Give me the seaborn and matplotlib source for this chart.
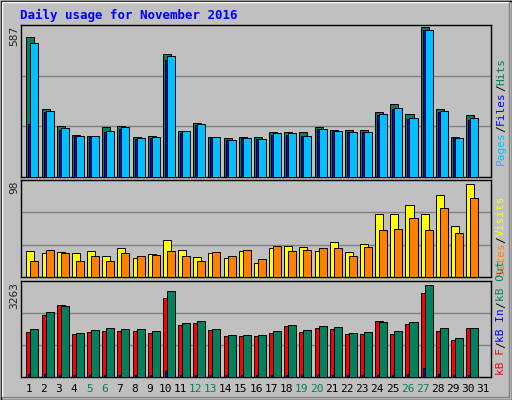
import numpy as np
import matplotlib
matplotlib.use("Agg")
import matplotlib.pyplot as plt
import seaborn as sns

sns.set_style("white")
plt.rcParams['font.family'] = ['DejaVu Sans Mono', 'DejaVu Sans']

days = list(range(1, 32))
weekend = [5, 6, 12, 13, 19, 20, 26, 27]
hits = [540, 262, 196, 164, 160, 192, 196, 156, 160, 476, 176, 207, 156, 149, 156, 153, 172, 172, 172, 192, 180, 180, 180, 250, 282, 243, 580, 262, 156, 239]
files = [203, 250, 180, 157, 157, 172, 184, 145, 149, 453, 168, 200, 149, 141, 149, 145, 164, 164, 160, 184, 176, 172, 172, 239, 262, 223, 568, 250, 149, 219]
pages = [517, 254, 188, 160, 160, 176, 192, 149, 153, 468, 176, 203, 153, 141, 149, 145, 168, 168, 160, 184, 176, 172, 172, 243, 266, 227, 568, 254, 149, 227]
visits = [26, 24, 25, 24, 26, 21, 29, 19, 23, 37, 27, 20, 24, 19, 26, 14, 29, 31, 30, 26, 35, 25, 33, 64, 64, 73, 64, 83, 52, 94]
sites = [16, 27, 24, 16, 21, 16, 24, 21, 22, 26, 21, 16, 25, 21, 27, 18, 31, 26, 27, 29, 29, 21, 30, 47, 49, 60, 47, 70, 44, 80]
kb_f = [1517, 2102, 2447, 1448, 1517, 1551, 1551, 1551, 1483, 2688, 1758, 1827, 1586, 1379, 1379, 1379, 1483, 1724, 1517, 1655, 1620, 1448, 1448, 1896, 1448, 1793, 2861, 1551, 1241, 1655]
kb_in = [115, 115, 80, 80, 80, 80, 80, 80, 80, 207, 80, 80, 80, 80, 80, 80, 80, 80, 80, 80, 80, 80, 80, 80, 80, 115, 310, 115, 80, 80]
kb_out = [1620, 2206, 2413, 1483, 1586, 1655, 1620, 1620, 1551, 2930, 1827, 1896, 1620, 1413, 1413, 1413, 1551, 1758, 1586, 1724, 1689, 1483, 1517, 1862, 1551, 1862, 3137, 1655, 1310, 1655]
max_top, max_mid, max_bot = 587, 98, 3263

W, H = 512, 400
fig = plt.figure(figsize=(W/100, H/100), dpi=100, facecolor="#C0C0C0")

fa = fig.add_axes([0, 0, 1, 1]); fa.set_xlim(0, W); fa.set_ylim(H, 0); fa.axis("off")
fa.add_patch(plt.Rectangle((0.5, 0.5), W-1, H-1, fill=False, ec="black", lw=1))
fa.plot([2, W-3], [2, 2], color="white", lw=1); fa.plot([2, 2], [2, H-3], color="white", lw=1)
fa.plot([2, W-3], [H-3, H-3], color="#808080", lw=1); fa.plot([W-3, W-3], [2, H-3], color="#808080", lw=1)
fa.text(20, 15, "Daily usage for November 2016", color="#0000FF", fontsize=9, fontweight="bold", va="center")

X0, X1 = 21, 491
def mkax(top, bot):
    return fig.add_axes([X0/W, 1-bot/H, (X1-X0)/W, (bot-top)/H])

x = np.arange(31)
bw = 0.53
off = 2/15.16

def style(ax, vmax, label, top):
    ax.set_facecolor("#C0C0C0")
    ax.set_xlim(-0.1, 30.9); ax.set_ylim(0, vmax)
    ax.set_xticks([]); ax.set_yticks([])
    for v in (vmax/3, 2*vmax/3):
        ax.axhline(v, color="#808080", lw=1, zorder=0)
    for s in ax.spines.values():
        s.set_color("black"); s.set_linewidth(1)
    fa.text(14, top+1, label, rotation=90, fontsize=8, ha="center", va="top")

def bars(ax, vals, k, color):
    ax.bar(x[:len(vals)] + 0.26 + k*off, vals, width=bw, align="edge", color=color, ec="black", lw=0.7, zorder=2+k)

a1 = mkax(25, 177)
style(a1, max_top, str(max_top), 25)
bars(a1, hits, 0, "#00805C"); bars(a1, files, 1, "#0000FF"); bars(a1, pages, 2, "#00C0FF")

a2 = mkax(180, 277)
style(a2, max_mid, str(max_mid), 180)
bars(a2, visits, 0, "#FFFF00"); bars(a2, sites, 2, "#FF8000")

a3 = mkax(281, 377)
style(a3, max_bot, str(max_bot), 281)
bars(a3, kb_f, 0, "#FF0000"); bars(a3, kb_in, 1, "#0000FF"); bars(a3, kb_out, 2, "#00805C")

for i, d in enumerate(days):
    fa.text(X0 + (i+0.5)*(X1-X0)/31, 389, str(d), fontsize=8, ha="center", va="center",
            color="#00805C" if d in weekend else "black")

CH = 8 * 0.602 * 100 / 72  # monospace char advance in px
def vlegend(parts, ybot):
    y = ybot
    for txt, col in parts:
        fa.text(501, y, txt, rotation=90, fontsize=8, ha="center", va="bottom", color=col)
        y -= len(txt) * CH

vlegend([("Pages", "#00C0FF"), ("/", "black"), ("Files", "#0000FF"), ("/", "black"), ("Hits", "#00805C")], 165)
vlegend([("Sites", "#FF8000"), ("/", "black"), ("Visits", "#FFFF00")], 276)
vlegend([("kB F", "#FF0000"), ("/", "black"), ("kB In", "#0000FF"), ("/", "black"), ("kB Out", "#00805C")], 375)

fig.savefig("out.png", dpi=100, facecolor=fig.get_facecolor())
